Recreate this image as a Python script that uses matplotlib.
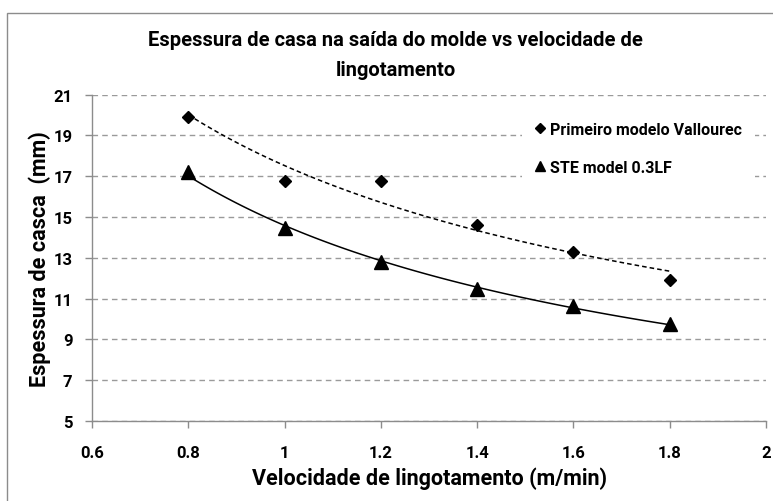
import numpy as np
import matplotlib
matplotlib.use("Agg")
import matplotlib.pyplot as plt
from matplotlib.patches import Rectangle

plt.rcParams['font.family'] = ['Roboto', 'DejaVu Sans']
plt.rcParams['font.weight'] = 'bold'

# data
velocidade = [0.8, 1.0, 1.2, 1.4, 1.6, 1.8]
vallourec = [19.9, 16.75, 16.75, 14.63, 13.3, 11.9]
ste_03lf = [17.2, 14.45, 12.8, 11.45, 10.65, 9.75]

series_names = ['Primeiro modelo Vallourec', 'STE model 0.3LF']
x_ticks = [0.6, 0.8, 1.0, 1.2, 1.4, 1.6, 1.8, 2.0]
x_ticklabels = ['0.6', '0.8', '1', '1.2', '1.4', '1.6', '1.8', '2']
y_ticks = [5, 7, 9, 11, 13, 15, 17, 19, 21]


def power_trend(x, y):
    # excel style power trendline: linear fit in log-log space
    b, ln_a = np.polyfit(np.log(x), np.log(y), 1)
    xs = np.linspace(min(x), max(x), 100)
    return xs, np.exp(ln_a) * xs ** b


W, H = 773, 502
fig = plt.figure(figsize=(W / 100, H / 100), dpi=100)
ax = fig.add_axes([92 / W, 1 - 422 / H, (766 - 92) / W, (422 - 95.7) / H])

# outer chart frame (partly cut off in the original)
fig.patches.append(Rectangle((7 / W, -0.1), 1.2, 1 - 14 / H + 0.1,
                             transform=fig.transFigure, fill=False,
                             edgecolor='#8c8c8c', lw=1.0))

xs, ys = power_trend(velocidade, vallourec)
ax.plot(xs, ys, color='black', lw=1.1, ls=(0, (3, 2)), zorder=3)
xs, ys = power_trend(velocidade, ste_03lf)
ax.plot(xs, ys, color='black', lw=1.1, ls='-', zorder=3)

ax.plot(velocidade, vallourec, ls='none', marker='D', ms=6.2,
        color='black', label=series_names[0], zorder=4)
ax.plot(velocidade, ste_03lf, ls='none', marker='^', ms=9.4,
        color='black', label=series_names[1], zorder=4)

ax.set_xlim(0.6, 2.0)
ax.set_ylim(5, 21)
ax.set_xticks(x_ticks)
ax.set_xticklabels(x_ticklabels)
ax.set_yticks(y_ticks)
ax.tick_params(labelsize=12, length=5, width=1, color='#8c8c8c')
ax.tick_params(axis='x', pad=12)
ax.tick_params(axis='y', pad=9)
for lab in ax.get_xticklabels() + ax.get_yticklabels():
    lab.set_fontweight('bold')

ax.grid(axis='y', color='#9a9a9a', ls=(0, (4, 3)), lw=1.0, zorder=0)
ax.set_axisbelow(True)
for side in ['top', 'right']:
    ax.spines[side].set_visible(False)
for side in ['left', 'bottom']:
    ax.spines[side].set_color('#8c8c8c')
    ax.spines[side].set_linewidth(1.0)

ax.set_xlabel('Velocidade de lingotamento (m/min)', fontsize=15.5,
              fontweight='bold', labelpad=5)
ax.set_ylabel('Espessura de casca  (mm)', fontsize=15.5,
              fontweight='bold', labelpad=2)

fig.text(0.512, 1 - 41 / H, 'Espessura de casa na saída do molde vs velocidade de',
         ha='center', va='center', fontsize=14.5, fontweight='bold')
fig.text(0.512, 1 - 70 / H, 'lingotamento',
         ha='center', va='center', fontsize=14.5, fontweight='bold')

leg = ax.legend(loc='upper left', bbox_to_anchor=(522 / W, 1 - 110 / H),
                bbox_transform=fig.transFigure, frameon=True, fontsize=11.5,
                handlelength=0.6, handletextpad=0.35, labelspacing=1.45,
                borderpad=0.8, borderaxespad=0, markerscale=0.8)
leg.get_frame().set_facecolor('white')
leg.get_frame().set_edgecolor('none')
leg.get_frame().set_alpha(1)
for t in leg.get_texts():
    t.set_fontweight('bold')

fig.savefig('out.png', dpi=100)
